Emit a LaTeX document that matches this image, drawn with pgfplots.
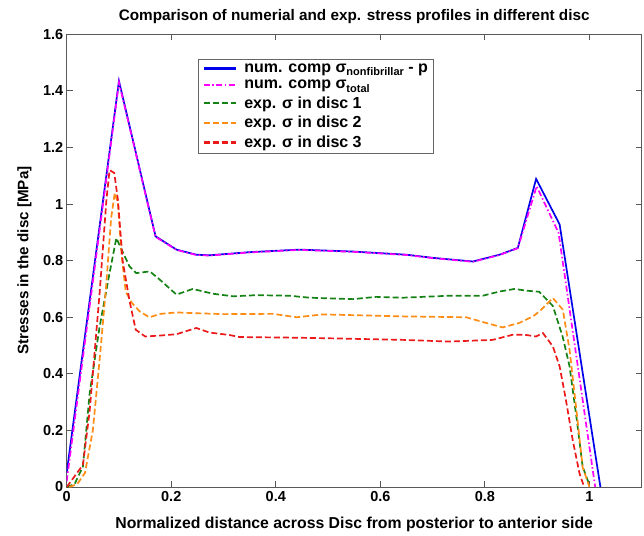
\documentclass[border=0pt]{standalone}
\usepackage{fontspec}
\setmainfont{Liberation Sans}
\usepackage{pgfplots}
\pgfplotsset{compat=1.18}
\definecolor{cblue}{RGB}{0,0,235}
\definecolor{cmag}{RGB}{255,0,255}
\definecolor{cgreen}{RGB}{20,130,20}
\definecolor{corange}{RGB}{255,140,20}
\definecolor{cred}{RGB}{235,25,25}
\newcommand{\sub}[1]{\raisebox{-3.5pt}{\fontsize{11}{11}\selectfont\bfseries #1}}
\begin{document}
\begin{tikzpicture}
\begin{axis}[name=ax,
  scale only axis, width=575pt, height=452.7pt,
  xmin=0, xmax=1.1, ymin=0, ymax=1.6,
  xtick={0,0.2,0.4,0.6,0.8,1}, ytick={0,0.2,...,1.6},
  xticklabels={0,0.2,0.4,0.6,0.8,1},
  yticklabels={0,0.2,0.4,0.6,0.8,1,1.2,1.4,1.6},
  tick align=inside, major tick length=6pt,
  axis line style={black!65, line width=0.8pt},
  every tick/.style={black!65, line width=0.8pt},
  /pgf/number format/assume math mode=true,
  tick label style={font=\fontsize{14.5}{16}\selectfont\bfseries},
  xticklabel style={yshift=-1pt},
  title={Comparison of numerial and exp. stress profiles in different disc},
  title style={font=\fontsize{15.3}{17}\selectfont\bfseries, yshift=1pt},
  xlabel={Normalized distance across Disc from posterior to anterior side},
  xlabel style={font=\fontsize{15.8}{18}\selectfont\bfseries, yshift=-8pt},
  ylabel={Stresses in the disc [MPa]},
  ylabel style={font=\fontsize{15.2}{17}\selectfont\bfseries, yshift=4.5pt},
  legend style={at={(rel axis cs:0.229,0.946)}, anchor=north west,
    draw=black!60, inner xsep=4pt, inner ysep=3pt,
    font=\fontsize{16}{17}\selectfont\bfseries, row sep=3.5pt, column sep=6pt,
    nodes={inner sep=1.5pt}},
  legend cell align=left,
  legend image code/.code={\draw[mark repeat=2,mark phase=2] plot coordinates {(0pt,0pt) (16pt,0pt) (32pt,0pt)};},
  legend image post style={line width=2.2pt},
  every axis plot/.append style={line width=1.7pt},
]
\addplot[cblue, solid] coordinates {
(0,0.05)(0.1,1.435)(0.17,0.886)(0.21,0.839)(0.248,0.821)(0.273,0.819)(0.35,0.83)(0.445,0.839)(0.55,0.832)(0.65,0.821)(0.70,0.81)(0.777,0.797)(0.828,0.821)(0.863,0.845)(0.898,1.089)(0.943,0.928)(1.021,0)
};
\addlegendentry{num. comp σ\sub{nonfibrillar} - p}
\addplot[cmag, dash pattern=on 6pt off 2.5pt on 1.5pt off 2.5pt] coordinates {
(0,0.02)(0.1,1.43)(0.17,0.884)(0.21,0.838)(0.248,0.82)(0.273,0.818)(0.35,0.829)(0.445,0.838)(0.55,0.831)(0.65,0.82)(0.70,0.809)(0.777,0.796)(0.828,0.82)(0.863,0.844)(0.899,1.063)(0.941,0.898)(1.011,0)
};
\addlegendentry{num. comp σ\sub{total}}
\addplot[cgreen, dash pattern=on 6pt off 3pt] coordinates {
(0.0,0.0)(0.015,0.01)(0.031,0.072)(0.044,0.332)(0.063,0.567)(0.082,0.756)(0.095,0.88)(0.105,0.839)(0.12,0.78)(0.133,0.756)(0.159,0.762)(0.178,0.733)(0.21,0.68)(0.241,0.70)(0.28,0.683)(0.318,0.674)(0.363,0.678)(0.426,0.676)(0.465,0.669)(0.547,0.664)(0.592,0.672)(0.643,0.669)(0.732,0.676)(0.796,0.676)(0.828,0.691)(0.857,0.70)(0.879,0.694)(0.904,0.69)(0.93,0.64)(0.949,0.53)(0.962,0.426)(0.975,0.249)(0.987,0.072)(1.0,0.007)
};
\addlegendentry{exp. σ in disc 1}
\addplot[corange, dash pattern=on 6pt off 3pt] coordinates {
(0.005,0)(0.02,0.01)(0.035,0.05)(0.05,0.2)(0.063,0.45)(0.075,0.7)(0.085,0.95)(0.092,1.04)(0.098,1.0)(0.105,0.82)(0.113,0.69)(0.125,0.65)(0.14,0.62)(0.158,0.6)(0.18,0.612)(0.21,0.617)(0.25,0.614)(0.3,0.611)(0.394,0.612)(0.44,0.6)(0.49,0.61)(0.643,0.603)(0.764,0.6)(0.802,0.58)(0.834,0.564)(0.866,0.58)(0.892,0.603)(0.904,0.62)(0.93,0.668)(0.949,0.627)(0.962,0.485)(0.975,0.273)(0.987,0.07)(1.0,0.0)
};
\addlegendentry{exp. σ in disc 2}
\addplot[cred, dash pattern=on 6pt off 3pt] coordinates {
(0.0,0.0)(0.012,0.03)(0.031,0.078)(0.044,0.27)(0.063,0.686)(0.076,1.015)(0.082,1.12)(0.091,1.11)(0.098,1.015)(0.107,0.80)(0.12,0.66)(0.132,0.556)(0.15,0.532)(0.177,0.535)(0.21,0.54)(0.248,0.562)(0.273,0.546)(0.312,0.537)(0.33,0.53)(0.426,0.528)(0.49,0.526)(0.643,0.52)(0.732,0.514)(0.815,0.52)(0.853,0.538)(0.876,0.538)(0.898,0.532)(0.911,0.544)(0.93,0.497)(0.943,0.426)(0.955,0.308)(0.968,0.166)(0.981,0.048)(0.99,0.0)
};
\addlegendentry{exp. σ in disc 3}
\end{axis}
\path ([shift={(-66.7pt,-48pt)}]ax.south west) rectangle ([shift={(2.3pt,34.3pt)}]ax.north east);
\end{tikzpicture}
\end{document}
